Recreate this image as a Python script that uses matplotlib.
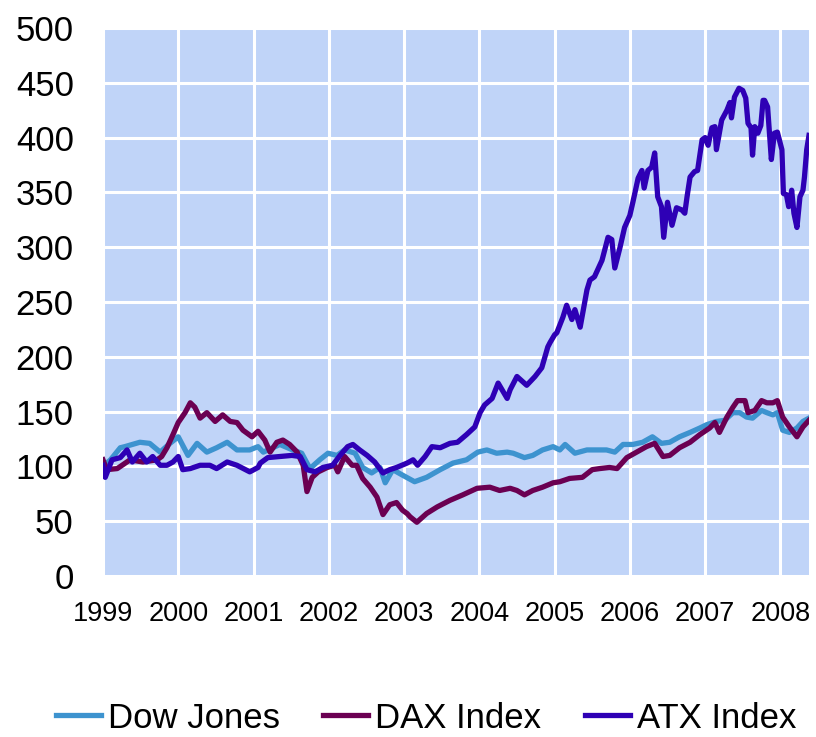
import matplotlib
matplotlib.use("Agg")
import matplotlib.pyplot as plt

# Index values rebased to 100 at start of 1999
dow_t = [1999.00, 1999.10, 1999.23, 1999.29, 1999.49, 1999.62, 1999.76, 1999.89,
         2000.00, 2000.13, 2000.25, 2000.38, 2000.51, 2000.65, 2000.78, 2000.95,
         2001.06, 2001.13, 2001.35, 2001.52, 2001.64, 2001.75, 2001.88, 2001.99,
         2002.11, 2002.21, 2002.35, 2002.45, 2002.57, 2002.68, 2002.75, 2002.85,
         2002.98, 2003.14, 2003.30, 2003.48, 2003.65, 2003.83, 2003.98, 2004.10,
         2004.23, 2004.37, 2004.45, 2004.60, 2004.71, 2004.84, 2004.98, 2005.07,
         2005.14, 2005.27, 2005.43, 2005.56, 2005.69, 2005.80, 2005.91, 2006.04,
         2006.17, 2006.30, 2006.42, 2006.53, 2006.66, 2006.80, 2006.93, 2007.02,
         2007.15, 2007.26, 2007.37, 2007.46, 2007.55, 2007.63, 2007.75, 2007.82,
         2007.90, 2007.96, 2008.03, 2008.12, 2008.22, 2008.30, 2008.38]
dow_v = [100, 106, 117, 118, 122, 121, 113, 121,
         127, 110, 121, 113, 117, 122, 115, 115,
         118, 113, 120, 115, 112, 98, 106, 112,
         110, 115, 112, 99, 94, 99, 85, 97,
         92, 86, 90, 97, 103, 106, 113, 115,
         112, 113, 112, 108, 110, 115, 118, 115,
         120, 112, 115, 115, 115, 113, 120, 120,
         122, 127, 121, 122, 127, 131, 135, 138,
         141, 142, 149, 149, 145, 144, 151, 149,
         147, 149, 133, 131, 135, 141, 144]

dax_t = [1999.00, 1999.05, 1999.19, 1999.36, 1999.53, 1999.72, 1999.78, 1999.85,
         1999.93, 2000.00, 2000.09, 2000.16, 2000.22, 2000.29, 2000.38, 2000.49,
         2000.59, 2000.69, 2000.78, 2000.86, 2000.98, 2001.06, 2001.15, 2001.22,
         2001.31, 2001.39, 2001.48, 2001.58, 2001.66, 2001.71, 2001.78, 2001.86,
         2001.98, 2002.08, 2002.12, 2002.21, 2002.31, 2002.37, 2002.45, 2002.55,
         2002.64, 2002.72, 2002.81, 2002.90, 2002.98, 2003.04, 2003.08, 2003.17,
         2003.30, 2003.44, 2003.61, 2003.78, 2003.97, 2004.14, 2004.27, 2004.41,
         2004.50, 2004.60, 2004.71, 2004.84, 2004.98, 2005.07, 2005.20, 2005.37,
         2005.50, 2005.60, 2005.73, 2005.83, 2005.96, 2006.09, 2006.22, 2006.33,
         2006.44, 2006.53, 2006.66, 2006.80, 2006.93, 2007.06, 2007.13, 2007.19,
         2007.29, 2007.37, 2007.43, 2007.53, 2007.57, 2007.66, 2007.75, 2007.82,
         2007.90, 2007.96, 2008.03, 2008.12, 2008.22, 2008.30, 2008.38]
dax_v = [106, 97, 98, 106, 104, 106, 109, 117,
         129, 140, 149, 158, 154, 144, 149, 141,
         147, 141, 140, 133, 127, 132, 124, 113,
         122, 124, 120, 113, 101, 77, 90, 95,
         99, 101, 95, 109, 101, 101, 89, 81,
         72, 56, 65, 67, 60, 57, 54, 49,
         57, 63, 69, 74, 80, 81, 78, 80,
         78, 74, 78, 81, 85, 86, 89, 90,
         97, 98, 99, 98, 108, 113, 118, 121,
         109, 110, 117, 122, 129, 135, 140, 131,
         145, 154, 160, 160, 149, 151, 160, 158,
         158, 160, 145, 136, 127, 136, 142]

atx_t = [1999.00, 1999.03, 1999.12, 1999.23, 1999.32, 1999.39, 1999.49, 1999.58,
         1999.66, 1999.76, 1999.85, 1999.93, 2000.00, 2000.06, 2000.16, 2000.29,
         2000.42, 2000.51, 2000.65, 2000.78, 2000.95, 2001.06, 2001.09, 2001.19,
         2001.35, 2001.51, 2001.62, 2001.71, 2001.82, 2001.92, 2002.05, 2002.15,
         2002.25, 2002.32, 2002.41, 2002.51, 2002.61, 2002.72, 2002.81, 2002.90,
         2003.04, 2003.12, 2003.18, 2003.28, 2003.37, 2003.48, 2003.61, 2003.71,
         2003.83, 2003.94, 2004.01, 2004.07, 2004.17, 2004.25, 2004.37, 2004.41,
         2004.50, 2004.63, 2004.74, 2004.83, 2004.91, 2004.94, 2005.00, 2005.03,
         2005.07, 2005.11, 2005.16, 2005.23, 2005.27, 2005.34, 2005.43, 2005.47,
         2005.53, 2005.63, 2005.71, 2005.76, 2005.80, 2005.87, 2005.93, 2006.00,
         2006.04, 2006.11, 2006.16, 2006.19, 2006.24, 2006.29, 2006.33, 2006.37,
         2006.42, 2006.45, 2006.50, 2006.56, 2006.62, 2006.69, 2006.73, 2006.76,
         2006.80, 2006.86, 2006.90, 2006.96, 2007.00, 2007.04, 2007.09, 2007.13,
         2007.15, 2007.22, 2007.29, 2007.33, 2007.35, 2007.39, 2007.45, 2007.50,
         2007.54, 2007.57, 2007.61, 2007.63, 2007.66, 2007.70, 2007.74, 2007.77,
         2007.79, 2007.83, 2007.88, 2007.92, 2007.96, 2008.02, 2008.04, 2008.08,
         2008.11, 2008.15, 2008.18, 2008.22, 2008.26, 2008.30, 2008.32, 2008.35,
         2008.38]
atx_v = [101, 90, 106, 108, 115, 104, 112, 104,
         109, 101, 101, 104, 109, 97, 98, 101,
         101, 98, 104, 101, 95, 99, 103, 108,
         109, 110, 109, 97, 95, 99, 101, 110,
         118, 120, 115, 110, 104, 94, 97, 99,
         103, 106, 101, 109, 118, 117, 121, 122,
         129, 136, 149, 156, 162, 176, 162, 170,
         182, 174, 182, 190, 209, 213, 220, 222,
         229, 236, 247, 234, 243, 227, 261, 270,
         273, 288, 309, 307, 281, 300, 318, 329,
         341, 363, 370, 354, 370, 373, 386, 346,
         337, 309, 341, 320, 336, 334, 331, 346,
         364, 369, 370, 398, 400, 393, 409, 410,
         389, 416, 425, 432, 418, 437, 445, 443,
         436, 413, 409, 384, 410, 404, 411, 434,
         434, 428, 380, 404, 405, 389, 349, 348,
         337, 352, 331, 318, 346, 352, 364, 389,
         402]

years = list(range(1999, 2009))
yticks = list(range(0, 501, 50))

fig = plt.figure(figsize=(8.16, 7.37), dpi=100)
ax = fig.add_axes([0.1262, 0.2185, 0.8652, 0.7435])
ax.set_facecolor("#C0D4F8")

lw = 3.8
ax.plot(dow_t, dow_v, color="#3D93CF", linewidth=lw, label="Dow Jones", zorder=3)
ax.plot(dax_t, dax_v, color="#6B0052", linewidth=lw, label="DAX Index", zorder=4)
ax.plot(atx_t, atx_v, color="#2E00B5", linewidth=lw, label="ATX Index", zorder=5)

ax.set_xlim(1999.0, 2008.38)
ax.set_ylim(0, 500)
ax.set_xticks(years)
ax.set_xticklabels([str(y) for y in years])
ax.set_yticks(yticks)
ax.grid(True, color="white", linewidth=2.2)
ax.set_axisbelow(True)
for s in ax.spines.values():
    s.set_visible(False)

ax.tick_params(axis="y", length=0, pad=21, labelsize=25)
ax.tick_params(axis="x", length=0, pad=18, labelsize=19.5)
for lab in ax.get_xticklabels() + ax.get_yticklabels():
    lab.set_fontfamily("Liberation Sans")

fig.legend(loc="center", bbox_to_anchor=(426 / 816, 1 - 718 / 737), ncol=3,
           frameon=False, handlelength=1.3, handletextpad=0.2, columnspacing=1.25,
           borderpad=0.2, prop={"family": "Liberation Sans", "size": 25})

fig.savefig("out.png", dpi=100)
